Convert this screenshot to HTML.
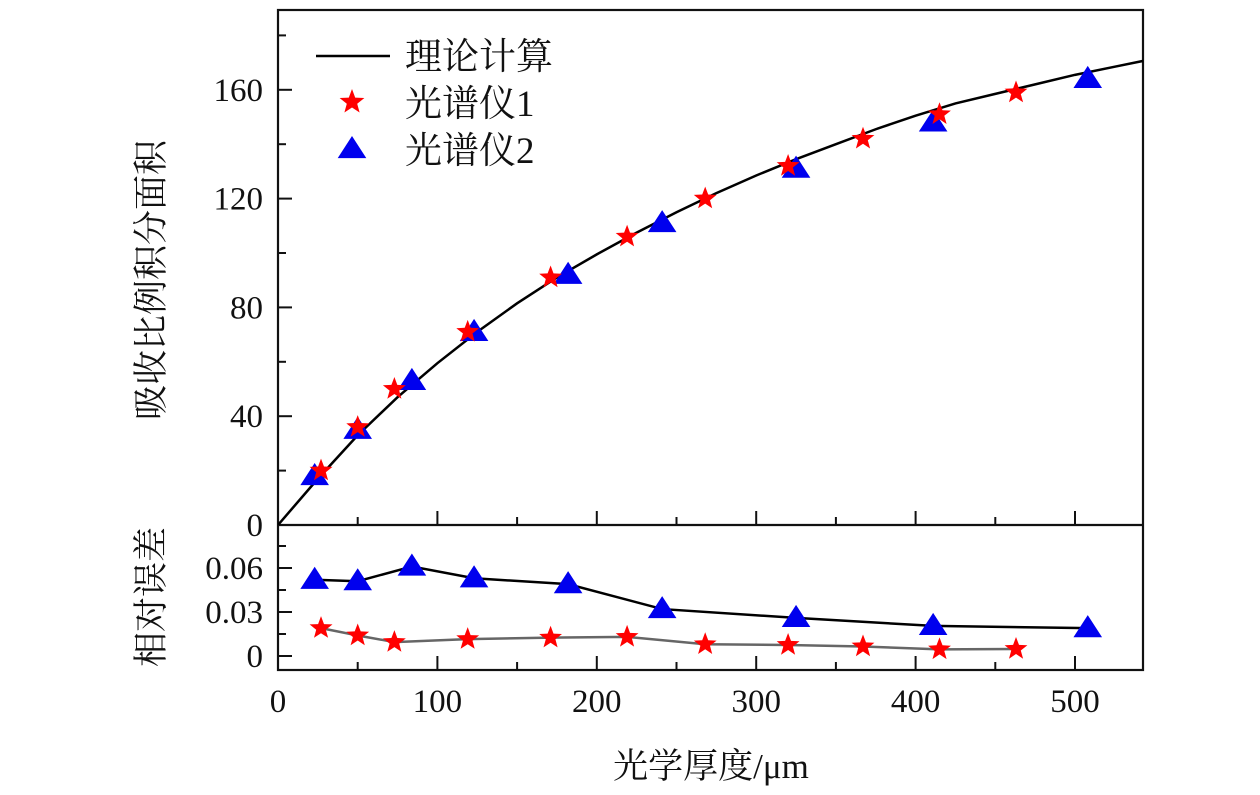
<!DOCTYPE html>
<html><head><meta charset="utf-8"><style>
html,body{margin:0;padding:0;background:#fff;width:1260px;height:795px;overflow:hidden}
text{font-family:"Liberation Serif","Noto Serif CJK SC",serif;fill:#111}
</style></head><body>
<svg id="chart" width="1260" height="795" xmlns="http://www.w3.org/2000/svg"></svg>
<script>
const theoryX=[0,25,50,75,100,125,150,175,200,225,250,275,300,325,350,375,400,425,450,475,500,525,550];
const theoryY=[0,17,33,47,59.5,71,81.5,91,99.5,107.5,115,122,128.5,134.5,140,145.5,150.5,155,158.5,162,165.5,168.5,171.5];
const s1X=[27,50,73,119,171,219,268,320,367,415,463];
const s1Y=[20,36,50,71,91,106,120,132,142,151,159];
const s1Err=[0.019,0.014,0.0095,0.0115,0.0125,0.013,0.008,0.0075,0.0065,0.0045,0.0048];
const s2X=[23,50,84,123,182,241,325,411,508];
const s2Y=[18,35,53,71,92,111,131,148,164];
const s2Err=[0.052,0.051,0.061,0.053,0.049,0.032,0.026,0.0205,0.019];
const xTicks=[0,100,200,300,400,500];
const yTicksTop=[0,40,80,120,160];
const yTicksBot=[0,0.03,0.06];
const yTickLabelsBot=["0","0.03","0.06"];

const svg=document.getElementById('chart');
const NS='http://www.w3.org/2000/svg';
const L=278,R=1143,T=10,MID=525,B=670;
const sx=v=>L+v*1.594;
const syT=v=>MID-v*2.72;
const syB=v=>656-v*1466.7;
function el(tag,attrs,parent){const e=document.createElementNS(NS,tag);for(const k in attrs)e.setAttribute(k,attrs[k]);(parent||svg).appendChild(e);return e;}
function star(cx,cy,r,g){let p=[];for(let i=0;i<10;i++){const a=-Math.PI/2+i*Math.PI/5;const rr=i%2?r*0.42:r;p.push((cx+rr*Math.cos(a)).toFixed(1)+','+(cy+rr*Math.sin(a)).toFixed(1));}return el('polygon',{points:p.join(' '),fill:'#ff0000'},g);}
function tri(cx,cy,r,g){return el('polygon',{points:`${cx},${cy-r} ${cx-r*1.1},${cy+r*0.7} ${cx+r*1.1},${cy+r*0.7}`,fill:'#0000ee'},g);}

const ticks=el('g',{stroke:'#111','stroke-width':2});


for(let v=0;v<=540;v+=50){const x=sx(v);const len=v%100===0?14:8;
 el('line',{x1:x,y1:B,x2:x,y2:B-len},ticks);el('line',{x1:x,y1:MID,x2:x,y2:MID-len},ticks);}
for(let v=0;v<=180;v+=20){const y=syT(v);const len=v%40===0?14:8;el('line',{x1:L,y1:y,x2:L+len,y2:y},ticks);}
for(let v=0;v<=0.08;v+=0.015){const y=syB(v);const len=Math.round(v*1000)%30===0?14:8;el('line',{x1:L,y1:y,x2:L+len,y2:y},ticks);}

const fr=el('rect',{x:L,y:T,width:R-L,height:B-T,fill:'none',stroke:'#111','stroke-width':2.2});


const dv=el('line',{x1:L,y1:MID,x2:R,y2:MID,stroke:'#111','stroke-width':2.2});



xTicks.forEach(v=>{const t=el('text',{x:sx(v),y:712,'text-anchor':'middle','font-size':33});t.textContent=v;
 
 });
yTicksTop.forEach(v=>{const t=el('text',{x:263,y:syT(v)+11,'text-anchor':'end','font-size':33});t.textContent=v;
 
 });
yTicksBot.forEach((v,i)=>{const t=el('text',{x:263,y:syB(v)+11,'text-anchor':'end','font-size':33});t.textContent=yTickLabelsBot[i];
 
 });

const cp=el('clipPath',{id:'cp'});
el('rect',{x:L,y:T,width:R-L,height:MID-T},cp);
const th=el('polyline',{points:theoryX.map((x,i)=>sx(x)+','+syT(theoryY[i])).join(' '),fill:'none',stroke:'#000','stroke-width':2.5,'clip-path':'url(#cp)'});



const e2=el('polyline',{points:s2X.map((x,i)=>sx(x)+','+syB(s2Err[i])).join(' '),fill:'none',stroke:'#000','stroke-width':2.5});


const e1=el('polyline',{points:s1X.map((x,i)=>sx(x)+','+syB(s1Err[i])).join(' '),fill:'none',stroke:'#666','stroke-width':2.5});



s2X.forEach((x,i)=>{const p=tri(sx(x),syT(s2Y[i]),13);
 
 
 const q=tri(sx(x),syB(s2Err[i]),13);
 
 });
s1X.forEach((x,i)=>{const p=star(sx(x),syT(s1Y[i]),12);
 
 
 const q=star(sx(x),syB(s1Err[i]),12);
 
 });

const lg=el('g',{});


el('line',{x1:316,y1:56,x2:390,y2:56,stroke:'#000','stroke-width':2.5},lg);
star(352,102,13,lg);tri(352,149,13,lg);
[['理论计算',69],['光谱仪1',116],['光谱仪2',163]].forEach(([s,y])=>{const t=el('text',{x:405,y:y,'font-size':37},lg);t.textContent=s;
 
 });

const yt=el('text',{x:0,y:0,'font-size':35,'text-anchor':'middle',transform:'translate(163,280) rotate(-90)'});yt.textContent='吸收比例积分面积';


const yb=el('text',{x:0,y:0,'font-size':35,'text-anchor':'middle',transform:'translate(163,597) rotate(-90)'});yb.textContent='相对误差';


const xt=el('text',{x:711,y:778,'font-size':35,'text-anchor':'middle'});xt.textContent='光学厚度/μm';


</script>
</body></html>
